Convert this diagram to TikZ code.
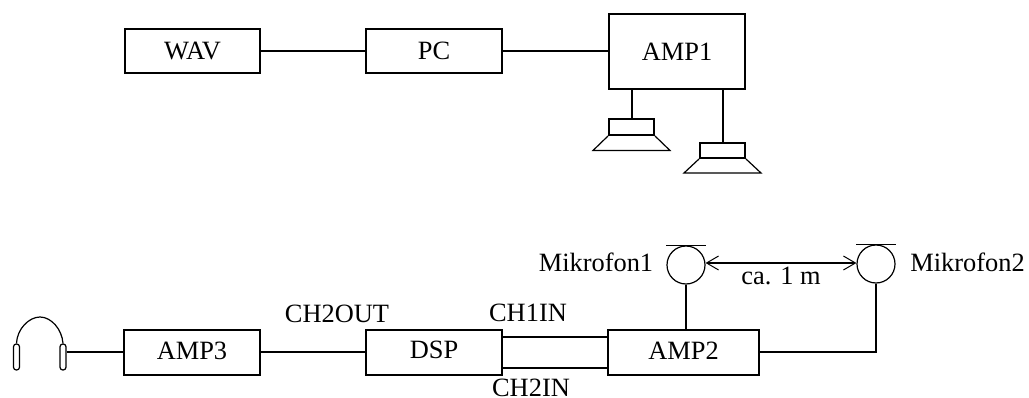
\documentclass[tikz,border=0pt]{standalone}
\usepackage{fontspec}
\setmainfont{Liberation Serif}
\usetikzlibrary{arrows.meta,calc}
\tikzset{
  x=1pt,y=-1pt,
  conn/.style={line width=2pt},
  bx/.style={draw,line width=2pt,inner sep=0pt,font=\fontsize{26.4}{26.4}\selectfont},
  lbl/.style={inner sep=0pt,anchor=base,font=\fontsize{26.4}{26.4}\selectfont},
  spk/.style={draw,line width=2pt,minimum width=45pt,inner sep=0pt},
  cone/.style={line width=1.2pt},
  mic/.style={draw,circle,line width=1.2pt,minimum size=38pt,inner sep=0pt},
  bar/.style={line width=1.4pt},
  pad/.style={draw,line width=1.2pt,rounded corners=2.8pt,minimum width=6pt,minimum height=26pt,inner sep=0pt},
}
\begin{document}
\begin{tikzpicture}
\useasboundingbox (0,0) rectangle (1029,398);
\node[bx,minimum width=135pt,minimum height=44pt] (wav) at (192.5,51) {WAV};
\node[bx,minimum width=136pt,minimum height=44pt] (pc) at (434,51) {PC};
\node[bx,minimum width=136pt,minimum height=75pt] (amp1) at (677,51.5) {AMP1};
\node[bx,minimum width=136pt,minimum height=45pt] (amp3) at (192,352.5) {\raisebox{4pt}{AMP3}};
\node[bx,minimum width=136pt,minimum height=45pt] (dsp) at (434,352.5) {\raisebox{6pt}{DSP}};
\node[bx,minimum width=151pt,minimum height=45pt] (amp2) at (683.5,352.5) {\raisebox{4pt}{AMP2}};
\coordinate (low) at (0,352);
\draw[conn] (wav.east) -- (pc.west);
\draw[conn] (pc.east) -- (amp1.west |- pc.east);
\draw[conn] (amp3.east |- low) -- (dsp.west |- low);
% speakers
\node[spk,minimum height=16pt] (s1) at (631.5,127) {};
\node[spk,minimum height=15pt] (s2) at (722.5,150.5) {};
\coordinate (s1l) at (593,150.5); \coordinate (s1r) at (670,150.5);
\coordinate (s2l) at (684,173); \coordinate (s2r) at (761,173);
\draw[cone] (s1.south west) -- (s1l) -- (s1r) -- (s1.south east);
\draw[cone] (s2.south west) -- (s2l) -- (s2r) -- (s2.south east);
\coordinate (st1) at (632,119); \coordinate (st2) at (723,143);
\draw[conn] (st1) -- (st1 |- amp1.south);
\draw[conn] (st2) -- (st2 |- amp1.south);
% DSP - AMP2
\coordinate (d1) at (dsp.east |- 0,337);
\coordinate (d2) at (dsp.east |- 0,368);
\draw[conn] (d1) -- (d1 -| amp2.west);
\draw[conn] (d2) -- (d2 -| amp2.west);
% microphones
\node[mic] (m1) at (686,265) {};
\node[mic] (m2) at (876,264) {};
\draw[bar] (m1.north -| m1.west) -- (m1.north -| m1.east);
\draw[bar] (m2.north -| m2.west) -- (m2.north -| m2.east);
\draw[conn] (m1.south) -- (m1.south |- amp2.north);
\draw[conn] (amp2.east |- low) -| (m2.south);
\coordinate (arr) at (0,263);
\draw[line width=1.6pt,{Straight Barb[length=12pt,width=14pt,line width=1pt]}-{Straight Barb[length=12pt,width=14pt,line width=1pt]}] (m1.east |- arr) -- (m2.west |- arr);
% headphones
\node[pad] (hl) at (16.5,357) {};
\node[pad] (hr) at (63,357) {};
\draw[line width=1.2pt] (hl.north) .. controls (17,329) and (29,317) .. (40,317) .. controls (51,317) and (62,329) .. (hr.north);
\draw[conn] (hr.east |- low) -- (amp3.west |- low);
% labels
\node[lbl] (t1) at (337,323) {CH2OUT};
\node[lbl] (t2) at (528,321.5) {CH1IN};
\node[lbl] (t3) at (531,396) {CH2IN};
\node[lbl] (t4) at (596,272) {Mikrofon1};
\node[lbl] (t5) at (967.5,272) {Mikrofon2};
\node[lbl] (t6) at (781,285) {ca. 1 m};
\end{tikzpicture}
\end{document}
